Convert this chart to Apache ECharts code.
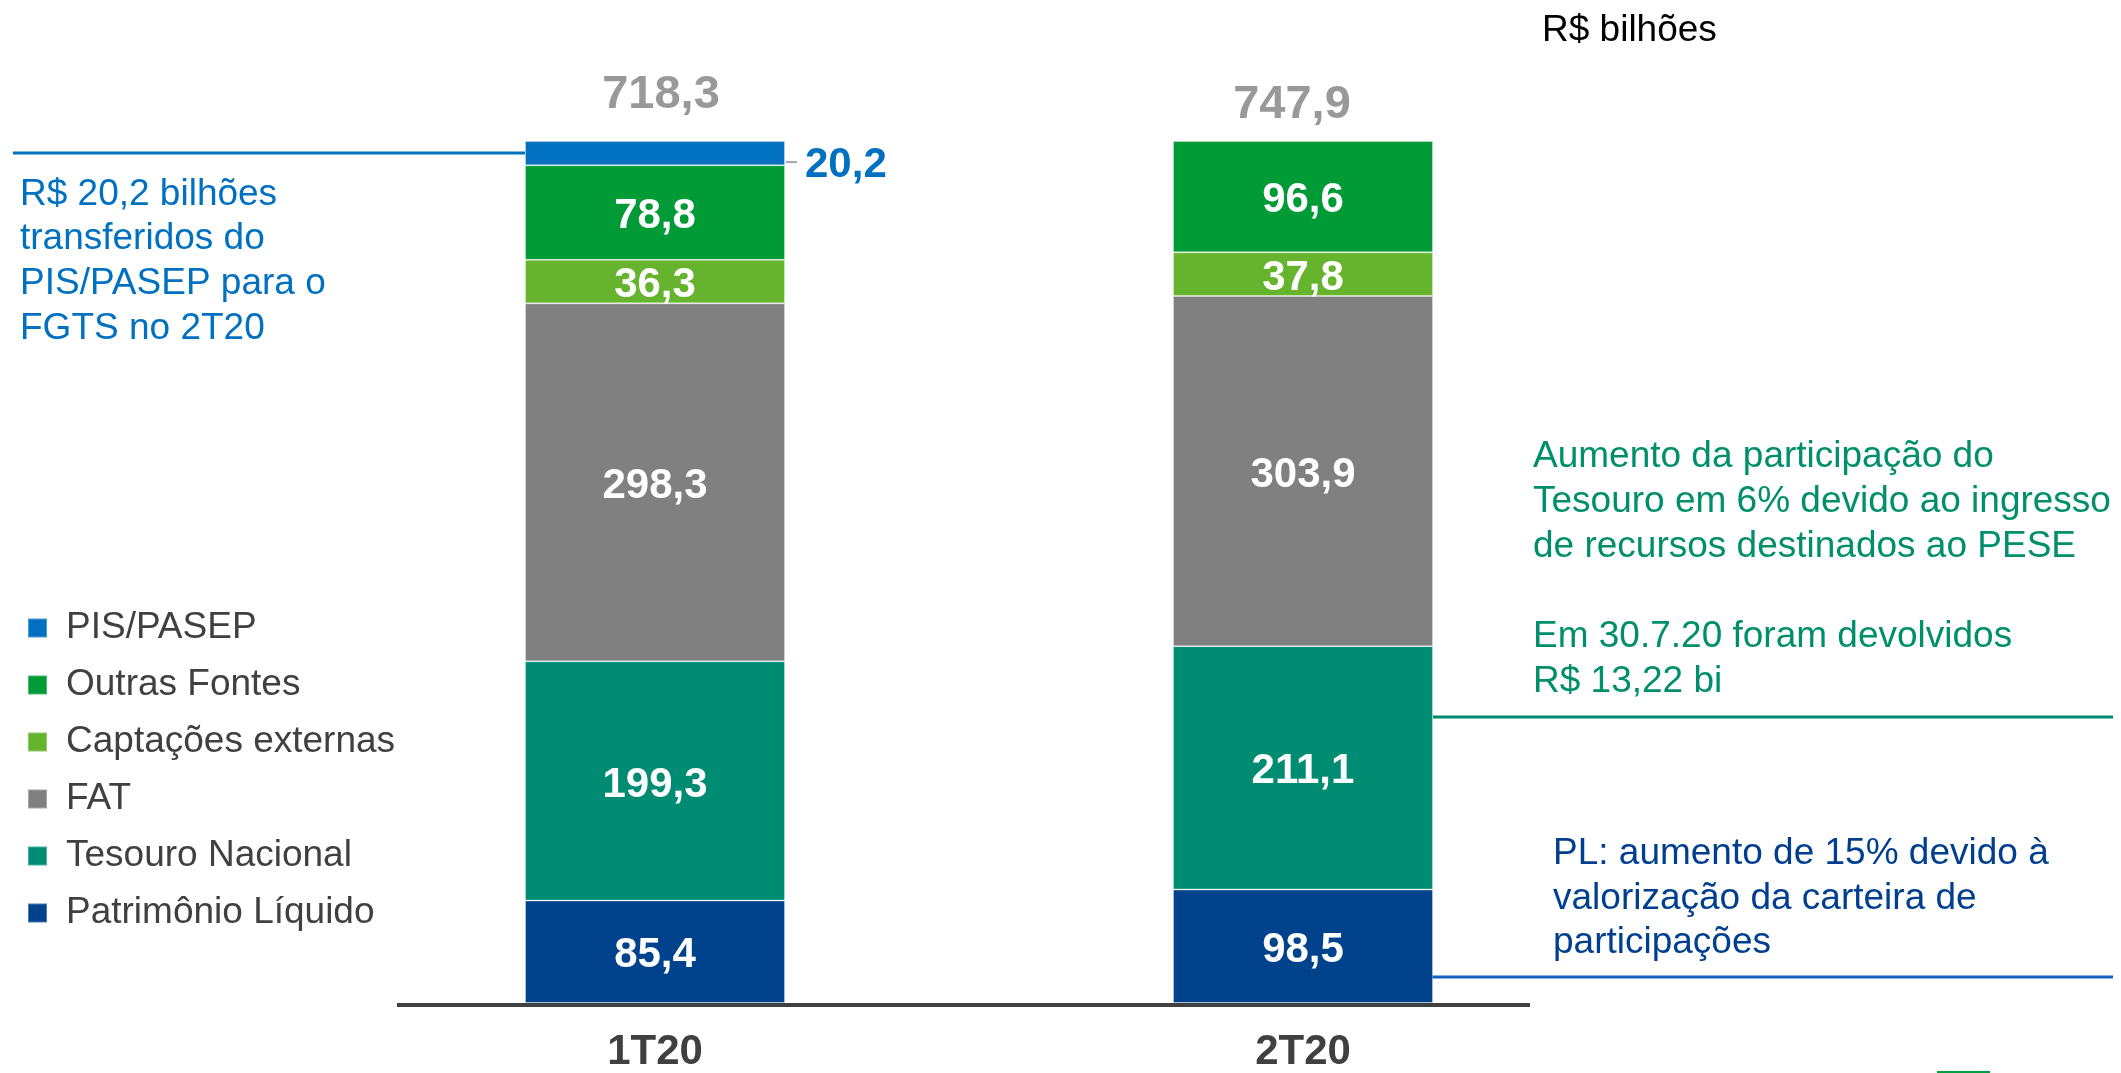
<!DOCTYPE html>
<html><head><meta charset="utf-8">
<script src="https://cdn.jsdelivr.net/npm/echarts@6/dist/echarts.min.js"></script>
<style>html,body{margin:0;padding:0;background:#fff}#c{width:2121px;height:1073px}</style>
</head><body><div id="c"></div>
<script>
// ---- data (R$ bilhões) ----
const categories = ['1T20', '2T20'];
const patrimonioLiquido = [85.4, 98.5];
const tesouroNacional = [199.3, 211.1];
const fat = [298.3, 303.9];
const captacoesExternas = [36.3, 37.8];
const outrasFontes = [78.8, 96.6];
const pisPasep = [20.2, null];
const totals = [718.3, 747.9];
const legendOrder = ['PIS/PASEP', 'Outras Fontes', 'Captações externas', 'FAT', 'Tesouro Nacional', 'Patrimônio Líquido'];

const FONT = '"Liberation Sans", Arial, sans-serif';
const fmt = v => v.toFixed(1).replace('.', ',');

const seriesDefs = [
  { name: 'Patrimônio Líquido', values: patrimonioLiquido, color: '#00428c' },
  { name: 'Tesouro Nacional', values: tesouroNacional, color: '#008c72' },
  { name: 'FAT', values: fat, color: '#808080' },
  { name: 'Captações externas', values: captacoesExternas, color: '#66b32e' },
  { name: 'Outras Fontes', values: outrasFontes, color: '#009a37' },
  { name: 'PIS/PASEP', values: pisPasep, color: '#0070c0', outside: true }
];

const totalOffsets = [[6, -46], [-11, -36]];

const series = seriesDefs.map(d => ({
  name: d.name,
  type: 'bar',
  stack: 'total',
  barWidth: 260,
  itemStyle: { color: d.color, borderColor: 'rgba(255,255,255,0.3)', borderWidth: 1 },
  data: d.values.map((v, i) => v == null ? null : v / totals[i] * 100),
  label: {
    show: true,
    position: d.outside ? 'right' : 'inside',
    distance: 20,
    offset: d.outside ? [0, 12] : [0, 4],
    formatter: p => { const v = d.values[p.dataIndex]; return v == null ? '' : fmt(v); },
    color: d.outside ? '#0070c0' : '#ffffff',
    fontFamily: FONT,
    fontWeight: 'bold',
    fontSize: 42
  },
  emphasis: { disabled: true }
}));

series.push({
  name: 'Total',
  type: 'scatter',
  symbolSize: 1,
  itemStyle: { color: 'rgba(0,0,0,0)' },
  data: totals.map((t, i) => ({ value: 100, label: { offset: totalOffsets[i] } })),
  label: {
    show: true,
    position: 'inside',
    formatter: p => fmt(totals[p.dataIndex]),
    color: '#7f7f7f',
    fontFamily: FONT,
    fontWeight: 'bold',
    fontSize: 47
  },
  silent: true,
  z: 5
});

const chart = echarts.init(document.getElementById('c'), null, { renderer: 'canvas' });
chart.setOption({
  animation: false,
  backgroundColor: '#ffffff',
  grid: { left: 331, right: 494, top: 141, bottom: 63, containLabel: false },
  xAxis: {
    type: 'category',
    data: categories,
    axisLine: { show: false },
    axisTick: { show: false },
    axisLabel: { margin: 28, color: '#404040', fontFamily: FONT, fontWeight: 'bold', fontSize: 42, lineHeight: 42 }
  },
  yAxis: { type: 'value', min: 0, max: 100, show: false },
  legend: {
    orient: 'vertical',
    left: 27,
    top: 608,
    padding: 0,
    data: legendOrder,
    icon: 'rect',
    itemWidth: 19,
    itemHeight: 19,
    itemGap: 17,
    selectedMode: false,
    textStyle: { color: '#404040', fontFamily: FONT, fontSize: 37, lineHeight: 40, padding: [0, 0, 0, 14] }
  },
  series: series
});

// decorations positioned from the axes
const baseY = chart.convertToPixel({ gridIndex: 0 }, [0, 0])[1];
const pisCenter = chart.convertToPixel({ gridIndex: 0 }, [0, 100 - (pisPasep[0] / totals[0] * 100) / 2]);
const barHalf = 130;

chart.setOption({
  graphic: [
    { type: 'line', shape: { x1: 397, y1: baseY + 2, x2: 1530, y2: baseY + 2 }, style: { stroke: '#404040', lineWidth: 4 }, z: 10 },
    { type: 'line', shape: { x1: 13, y1: pisCenter[1], x2: pisCenter[0] - barHalf, y2: pisCenter[1] }, style: { stroke: '#0070c0', lineWidth: 3 } },
    { type: 'line', shape: { x1: pisCenter[0] + barHalf + 1, y1: pisCenter[1] + 9, x2: pisCenter[0] + barHalf + 12, y2: pisCenter[1] + 9 }, style: { stroke: '#a6a6a6', lineWidth: 2 } },
    { type: 'line', shape: { x1: 1433, y1: 717, x2: 2113, y2: 717 }, style: { stroke: '#00896c', lineWidth: 3 } },
    { type: 'line', shape: { x1: 1432, y1: 977, x2: 2113, y2: 977 }, style: { stroke: '#1560c0', lineWidth: 3 } },
    { type: 'line', shape: { x1: 1937, y1: 1072, x2: 1990, y2: 1072 }, style: { stroke: '#00a040', lineWidth: 2 } },
    { type: 'text', left: 1542, top: 12, style: { text: 'R$ bilhões', fill: '#000000', font: '37px ' + FONT, lineHeight: 37 } },
    { type: 'text', left: 20, top: 172, style: { text: 'R$ 20,2 bilhões\ntransferidos do\nPIS/PASEP para o\nFGTS no 2T20', fill: '#0070c0', font: '37px ' + FONT, lineHeight: 44.7 } },
    { type: 'text', left: 1533, top: 434, style: { text: 'Aumento da participação do\nTesouro em 6% devido ao ingresso\nde recursos destinados ao PESE', fill: '#008f6b', font: '37px ' + FONT, lineHeight: 45 } },
    { type: 'text', left: 1533, top: 614, style: { text: 'Em 30.7.20 foram devolvidos\nR$ 13,22 bi', fill: '#008f6b', font: '37px ' + FONT, lineHeight: 45 } },
    { type: 'text', left: 1553, top: 832, style: { text: 'PL: aumento de 15% devido à\nvalorização da carteira de\nparticipações', fill: '#003f8f', font: '37px ' + FONT, lineHeight: 44.5 } }
  ]
});
</script>
</body></html>
